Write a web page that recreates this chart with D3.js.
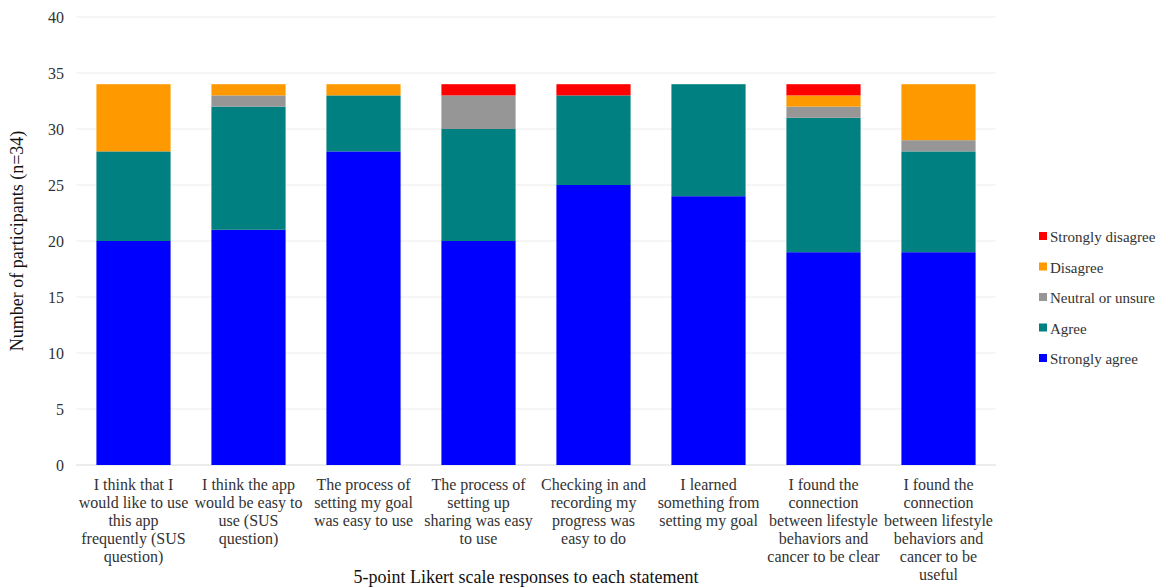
<!DOCTYPE html>
<html>
<head>
<meta charset="utf-8">
<script src="https://cdn.jsdelivr.net/npm/d3@7/dist/d3.min.js"></script>
<style>
  html, body { margin: 0; padding: 0; background: #fff; }
  svg, svg text { font-family: "Liberation Serif", "Times New Roman", serif !important; }
  svg { display: block; }
</style>
</head>
<body>
<svg id="chart" width="1160" height="588"></svg>
<script>
// Statements (wrapped onto lines as printed under each bar)
const statements = [
  ["I think that I", "would like to use", "this app", "frequently (SUS", "question)"],
  ["I think the app", "would be easy to", "use (SUS", "question)"],
  ["The process of", "setting my goal", "was easy to use"],
  ["The process of", "setting up", "sharing was easy", "to use"],
  ["Checking in and", "recording my", "progress was", "easy to do"],
  ["I learned", "something from", "setting my goal"],
  ["I found the", "connection", "between lifestyle", "behaviors and", "cancer to be clear"],
  ["I found the", "connection", "between lifestyle", "behaviors and", "cancer to be", "useful"]
];

// Response counts per statement (n = 34)
const stronglyAgree    = [20, 21, 28, 20, 25, 24, 19, 19];
const agree            = [ 8, 11,  5, 10,  8, 10, 12,  9];
const neutralOrUnsure  = [ 0,  1,  0,  3,  0,  0,  1,  1];
const disagree         = [ 6,  1,  1,  0,  0,  0,  1,  5];
const stronglyDisagree = [ 0,  0,  0,  1,  1,  0,  1,  0];

const seriesNames  = ["Strongly agree", "Agree", "Neutral or unsure", "Disagree", "Strongly disagree"];
const seriesColors = ["#0000FF", "#008080", "#969696", "#FF9900", "#FF0000"];
const yTicks = [0, 5, 10, 15, 20, 25, 30, 35, 40];

const svg = d3.select("#chart");
const margin = { left: 76, right: 164, top: 17, bottom: 123 };
const W = 1160, H = 588;

const rows = statements.map((s, i) => ({
  key: i,
  "Strongly agree": stronglyAgree[i],
  "Agree": agree[i],
  "Neutral or unsure": neutralOrUnsure[i],
  "Disagree": disagree[i],
  "Strongly disagree": stronglyDisagree[i]
}));

const x = d3.scaleBand()
  .domain(statements.map((s, i) => i))
  .range([margin.left, W - margin.right])
  .paddingInner(0.355)
  .paddingOuter(0.1775);

const y = d3.scaleLinear().domain([0, 40]).range([H - margin.bottom, margin.top]);

const color = d3.scaleOrdinal().domain(seriesNames).range(seriesColors);

// Horizontal gridlines
svg.append("g")
  .selectAll("line")
  .data(yTicks)
  .join("line")
  .attr("x1", margin.left).attr("x2", W - margin.right)
  .attr("y1", d => y(d)).attr("y2", d => y(d))
  .attr("stroke", d => d === 0 ? "#d9d9d9" : "#ececec")
  .attr("stroke-width", 1);

// Y axis labels
const yAxis = svg.append("g")
  .attr("transform", `translate(${margin.left},0)`)
  .call(d3.axisLeft(y).tickValues(yTicks).tickSize(0).tickPadding(12));
yAxis.select(".domain").remove();
yAxis.selectAll("text")
  .style("font-size", "16px")
  .attr("fill", "#333");

// Stacked bars
const stack = d3.stack().keys(seriesNames);
const layers = stack(rows);

svg.append("g")
  .selectAll("g")
  .data(layers)
  .join("g")
  .attr("fill", d => color(d.key))
  .selectAll("rect")
  .data(d => d)
  .join("rect")
  .attr("x", d => x(d.data.key))
  .attr("width", x.bandwidth())
  .attr("y", d => y(d[1]))
  .attr("height", d => y(d[0]) - y(d[1]));

// Category labels beneath each bar
const xAxis = svg.append("g")
  .attr("transform", `translate(0,${y(0)})`)
  .call(d3.axisBottom(x).tickSize(0).tickFormat(() => ""));
xAxis.select(".domain").remove();
xAxis.selectAll(".tick text").remove();
xAxis.selectAll(".tick")
  .append("text")
  .attr("text-anchor", "middle")
  .attr("fill", "#333")
  .style("font-size", "16px")
  .selectAll("tspan")
  .data(i => statements[i])
  .join("tspan")
  .attr("x", 0)
  .attr("y", (d, j) => 25 + j * 18)
  .text(d => d);

// Axis titles
svg.append("text")
  .attr("x", 526)
  .attr("y", 583)
  .attr("text-anchor", "middle")
  .style("font-size", "18px")
  .attr("fill", "#111")
  .text("5-point Likert scale responses to each statement");

svg.append("text")
  .attr("transform", "translate(23,241) rotate(-90)")
  .attr("text-anchor", "middle")
  .style("font-size", "18px")
  .attr("fill", "#111")
  .text("Number of participants (n=34)");

// Legend, listed top-down from strongly disagree
const legendItems = seriesNames.slice().reverse();
const legend = svg.append("g").attr("transform", "translate(1039,237)");
const li = legend.selectAll("g")
  .data(legendItems)
  .join("g")
  .attr("transform", (d, i) => `translate(0,${i * 30.5})`);
li.append("rect")
  .attr("x", 0).attr("y", -5)
  .attr("width", 8).attr("height", 8)
  .attr("fill", d => color(d));
li.append("text")
  .attr("x", 11).attr("y", 0)
  .attr("dy", "0.35em")
  .style("font-size", "15px")
  .attr("fill", "#333")
  .text(d => d);
</script>
</body>
</html>
